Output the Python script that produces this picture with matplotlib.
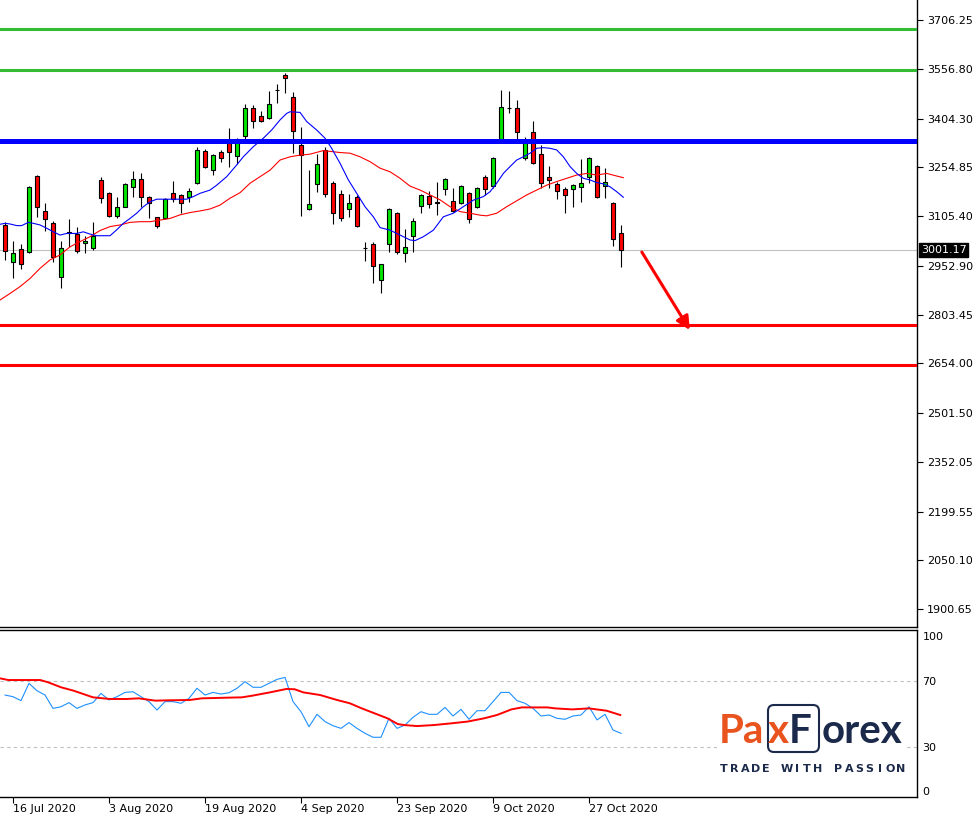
import matplotlib
matplotlib.use("Agg")
import matplotlib.pyplot as plt
import matplotlib.transforms as mtransforms
from matplotlib.patches import FancyBboxPatch, Rectangle

# daily candles (one bar per trading day)
opens = [3078, 2964, 3003, 2995, 3228, 3121, 3083, 2918, 3052, 3050,
         3022, 3006, 3216, 3175, 3106, 3134, 3193, 3218, 3165, 3101,
         3098, 3175, 3169, 3163, 3206, 3305, 3246, 3301, 3328, 3290,
         3352, 3436, 3413, 3405, 3491, 3537, 3471, 3324, 3126, 3204,
         3308, 3206, 3172, 3126, 3163, 3007, 3019, 2909, 3020, 3116,
         2991, 3044, 3137, 3167, 3147, 3187, 3152, 3144, 3175, 3132,
         3224, 3197, 3336, 3437, 3436, 3282, 3362, 3295, 3224, 3204,
         3187, 3187, 3193, 3224, 3259, 3197, 3144, 3052]
highs = [3087, 3029, 3020, 3197, 3231, 3146, 3091, 3029, 3095, 3073,
         3044, 3086, 3224, 3179, 3165, 3206, 3243, 3238, 3166, 3103,
         3160, 3213, 3172, 3192, 3316, 3310, 3296, 3308, 3374, 3344,
         3449, 3446, 3427, 3490, 3510, 3543, 3485, 3377, 3247, 3295,
         3316, 3213, 3185, 3172, 3170, 3026, 3026, 2959, 3131, 3119,
         3065, 3098, 3172, 3183, 3209, 3221, 3190, 3201, 3180, 3195,
         3231, 3285, 3492, 3489, 3461, 3349, 3397, 3323, 3259, 3211,
         3195, 3204, 3279, 3287, 3262, 3252, 3149, 3078]
lows = [2971, 2916, 2943, 2993, 3103, 3060, 2965, 2886, 3011, 2991,
        2993, 3001, 3146, 3101, 3098, 3132, 3163, 3134, 3098, 3068,
        3096, 3149, 3116, 3149, 3203, 3252, 3231, 3272, 3255, 3265,
        3338, 3374, 3395, 3402, 3451, 3482, 3298, 3106, 3124, 3180,
        3165, 3080, 3091, 3103, 3071, 2968, 2901, 2869, 2996, 2989,
        2964, 2996, 3114, 3129, 3109, 3170, 3119, 3142, 3085, 3130,
        3170, 3190, 3335, 3420, 3338, 3277, 3265, 3190, 3190, 3157,
        3116, 3134, 3149, 3207, 3160, 3160, 3014, 2948]
closes = [2999, 2993, 2957, 3194, 3134, 3097, 2981, 3006, 3055, 2999,
          3029, 3044, 3160, 3106, 3132, 3203, 3218, 3163, 3144, 3076,
          3157, 3158, 3144, 3182, 3308, 3257, 3292, 3282, 3301, 3341,
          3436, 3397, 3397, 3448, 3493, 3528, 3366, 3292, 3141, 3264,
          3172, 3114, 3098, 3146, 3075, 3006, 2952, 2957, 3126, 2994,
          3011, 3091, 3170, 3142, 3146, 3219, 3122, 3197, 3095, 3190,
          3187, 3282, 3439, 3436, 3362, 3335, 3267, 3206, 3216, 3182,
          3170, 3200, 3206, 3282, 3163, 3211, 3034, 3001.17]

# moving averages (bar position, price)
ma_fast_x = [-0.63, 0.0, 0.63, 1.46, 2.08, 2.92, 3.54, 4.38, 5.21, 6.04, 6.88, 7.71,
             8.96, 9.79, 10.63, 11.46, 12.29, 13.13, 13.96, 14.79, 15.63, 16.46,
             17.29, 18.13, 18.96, 20.21, 21.46, 22.71, 23.54, 24.38, 25.63, 26.46,
             27.71, 28.96, 29.79, 31.04, 32.29, 33.33, 34.38, 35.21, 35.63, 36.88,
             37.71, 38.96, 40.0, 40.83, 41.88, 42.92, 43.96, 45.0, 46.04, 46.88,
             48.13, 49.38, 50.63, 51.25, 52.29, 53.54, 54.79, 56.04, 57.29, 58.54,
             59.79, 60.63, 61.46, 62.29, 63.13, 63.96, 64.79, 65.63, 66.46, 67.29,
             68.13, 68.96, 69.79, 70.63, 71.46, 72.29, 73.13, 73.96, 74.79, 75.63,
             76.46, 77.29]
ma_fast_y = [3080, 3083, 3081, 3076, 3076, 3086, 3083, 3078, 3068, 3057, 3047, 3052,
             3052, 3057, 3050, 3045, 3045, 3045, 3063, 3083, 3098, 3114,
             3134, 3149, 3157, 3157, 3157, 3157, 3165, 3175, 3185, 3200,
             3226, 3262, 3287, 3318, 3344, 3369, 3400, 3420, 3425, 3423,
             3395, 3369, 3344, 3313, 3267, 3216, 3175, 3134, 3103, 3070,
             3062, 3047, 3032, 3030, 3042, 3062, 3103, 3114, 3134, 3154,
             3165, 3180, 3206, 3236, 3257, 3277, 3287, 3298, 3313, 3315,
             3313, 3308, 3287, 3257, 3236, 3221, 3216, 3208, 3204, 3195,
             3180, 3163]
ma_slow_x = [-0.63, 0.63, 1.88, 3.13, 4.38, 5.63, 6.88, 8.13, 9.38, 10.63, 11.88,
             13.13, 14.38, 15.63, 16.88, 18.13, 19.38, 20.63, 21.88, 23.13, 24.38,
             25.63, 26.88, 28.13, 29.38, 30.63, 31.88, 33.13, 34.38, 35.63, 36.88,
             38.13, 39.79, 41.88, 43.13, 44.38, 45.63, 46.88, 48.13, 49.38, 50.63,
             51.88, 53.13, 54.38, 55.63, 56.88, 58.13, 59.38, 60.21, 61.46, 62.71,
             63.96, 65.21, 66.46, 67.71, 68.96, 70.21, 71.46, 72.71, 73.96, 75.21,
             76.46, 77.29]
ma_slow_y = [2848, 2868, 2889, 2914, 2945, 2971, 2986, 3011, 3027, 3042, 3061,
             3073, 3078, 3086, 3088, 3088, 3093, 3098, 3109, 3116, 3121,
             3127, 3139, 3160, 3177, 3206, 3226, 3246, 3277, 3287, 3292,
             3295, 3306, 3300, 3298, 3287, 3272, 3252, 3241, 3221, 3197,
             3185, 3170, 3155, 3134, 3119, 3114, 3108, 3106, 3114, 3134,
             3152, 3170, 3185, 3200, 3211, 3221, 3231, 3236, 3231, 3236,
             3228, 3223]

# RSI panel
rsi = [61.7, 60.7, 58.3, 68.8, 64.3, 61.7, 53.6, 54.6, 57.1, 53.6,
       55.7, 57.1, 62.7, 58.7, 60.7, 63.3, 63.7, 60.7, 57.7, 52.6,
       57.7, 57.7, 56.7, 59.7, 65.8, 61.7, 63.3, 62.3, 63.1, 65.8,
       69.8, 66.4, 66.4, 68.8, 71.2, 72.4, 57.7, 51.6, 42.5, 50.0,
       45.6, 43.1, 41.5, 45.0, 41.5, 38.5, 36.1, 36.1, 47.6, 41.5,
       43.5, 48.2, 51.6, 50.0, 50.0, 54.2, 49.0, 53.0, 47.0, 52.2,
       52.2, 57.7, 63.3, 63.3, 58.3, 56.7, 53.6, 49.0, 49.6, 47.6,
       47.0, 49.0, 49.6, 54.6, 46.6, 50.0, 40.5, 38.5]
rsi_ma_x = [-0.6, 0.4, 4.4, 5.4, 7.0, 8.6, 11.0, 13.1, 15.2, 16.7, 18.8, 20.4,
            23.1, 24.6, 27.8, 29.6, 30.9, 33.1, 35.2, 36.2, 37.3, 39.4, 41.5,
            43.1, 44.6, 46.2, 47.8, 49.1, 49.9, 51.5, 53.6, 55.7, 57.8, 59.9,
            61.5, 63.3, 64.6, 67.8, 68.8, 70.9, 73.0, 75.2, 76.9]
rsi_ma_y = [71.8, 70.8, 70.8, 69.4, 66.4, 64.3, 60.3, 59.3, 59.3, 59.7, 58.3, 58.5,
            58.7, 59.7, 60.1, 60.3, 61.3, 63.3, 65.4, 65.2, 63.3, 61.7, 58.7,
            56.7, 53.6, 50.6, 47.6, 44.1, 43.5, 42.9, 43.5, 44.5, 45.6, 47.6,
            49.6, 53.0, 54.2, 54.2, 53.6, 53.0, 53.6, 52.2, 49.6]

resistance_levels = [3678.7, 3553.0]
pivot_level = 3335.4
support_levels = [2771.3, 2648.7]
last_price = 3001.17
price_ticks = [3706.25, 3556.80, 3404.30, 3254.85, 3105.40, 2952.90, 2803.45,
               2654.00, 2501.50, 2352.05, 2199.55, 2050.10, 1900.65]
date_ticks = [1, 13, 25, 37, 49, 61, 73]
date_labels = ["16 Jul 2020", "3 Aug 2020", "19 Aug 2020", "4 Sep 2020",
               "23 Sep 2020", "9 Oct 2020", "27 Oct 2020"]
arrow_start = (79.6, 2995)
arrow_end = (85.6, 2756)

fig = plt.figure(figsize=(9.79, 8.14), dpi=100)
ax = fig.add_axes([0, 0.2297, 0.9367, 0.7703])
ax2 = fig.add_axes([0, 0.0209, 0.9367, 0.2051])

# candles
idx = list(range(len(opens)))
ax.vlines(idx, lows, highs, color="black", lw=0.8, zorder=2)
colors = ["#00e600" if c >= o else "#ff0000" for o, c in zip(opens, closes)]
bottoms = [min(o, c) for o, c in zip(opens, closes)]
heights = [max(abs(c - o), 0.5) for o, c in zip(opens, closes)]
ax.bar(idx, heights, bottom=bottoms, width=0.62, color=colors,
       edgecolor="black", lw=0.8, zorder=2.5)

ax.plot(ma_slow_x, ma_slow_y, color="#ff0000", lw=0.8, zorder=3)
ax.plot(ma_fast_x, ma_fast_y, color="#0000ff", lw=0.8, zorder=3)

ax.axhline(last_price, color="#c0c0c0", lw=0.8, zorder=1)
for lvl in resistance_levels:
    ax.axhline(lvl, color="#33bb33", lw=2.2, zorder=4)
ax.axhline(pivot_level, color="#0000ff", lw=3.6, zorder=4)
for lvl in support_levels:
    ax.axhline(lvl, color="#ff0000", lw=2.2, zorder=4)

ax.annotate("", xy=arrow_end, xytext=arrow_start,
            arrowprops=dict(arrowstyle="-|>", color="#ff0000", lw=2.2,
                            mutation_scale=20, shrinkA=0, shrinkB=0), zorder=5)

ax.set_xlim(-0.625, 114)
ax.set_ylim(1845.5, 3767.6)
ax.set_xticks([])
ax.yaxis.tick_right()
ax.set_yticks(price_ticks)
ax.set_yticklabels(["%.2f" % p for p in price_ticks])
ax.tick_params(axis="y", length=4, width=0.8, labelsize=8, pad=3)
for s in ["top", "left"]:
    ax.spines[s].set_visible(False)
ax.spines["right"].set_linewidth(1)
ax.spines["bottom"].set_linewidth(1)

trans = mtransforms.blended_transform_factory(ax.transAxes, ax.transData)
ax.text(1.004, last_price, "%.2f" % last_price, transform=trans, color="white",
        fontsize=8, va="center", ha="left",
        bbox=dict(facecolor="black", edgecolor="black", pad=1.2))

# RSI
ax2.axhline(70, color="#c0c0c0", lw=0.8, ls=(0, (3, 3)))
ax2.axhline(30, color="#c0c0c0", lw=0.8, ls=(0, (3, 3)))
ax2.plot(idx, rsi, color="#1e90ff", lw=0.8)
ax2.plot(rsi_ma_x, rsi_ma_y, color="#ff0000", lw=1.4)
ax2.set_xlim(-0.625, 114)
ax2.set_ylim(-0.1, 101.1)
ax2.yaxis.tick_right()
ax2.set_yticks([100, 70, 30, 0])
ax2.set_yticklabels(["100", "70", "30", "0"])
ax2.tick_params(axis="y", length=0, labelsize=8, pad=4)
ylabs = ax2.get_yticklabels()
ylabs[0].set_va("top")
ylabs[3].set_va("bottom")
ax2.set_xticks(date_ticks)
ax2.set_xticklabels(date_labels, ha="left")
ax2.tick_params(axis="x", length=4, width=0.8, labelsize=8, pad=1)
ax2.spines["left"].set_visible(False)
for s in ["top", "right", "bottom"]:
    ax2.spines[s].set_linewidth(1)

# logo
fig.patches.append(Rectangle((7.17, 0.36), 1.89, 0.78, transform=fig.dpi_scale_trans,
                             facecolor="white", edgecolor="none", zorder=1))
fig.patches.append(FancyBboxPatch((7.68, 0.62), 0.51, 0.47,
                                  boxstyle="round,pad=0,rounding_size=0.06",
                                  transform=fig.dpi_scale_trans, facecolor="white",
                                  edgecolor="#1b2a4a", lw=1.5, zorder=2))
orange = "#e8531e"
navy = "#1b2a4a"
logo_y = 1 - 743 / 814
fig.text(719 / 979, logo_y, "Pa", color=orange, fontsize=29, fontweight="bold",
         family="Lato", va="baseline", ha="left", zorder=3)
fig.text(768 / 979, logo_y, "x", color=orange, fontsize=29, fontweight="bold",
         family="Lato", va="baseline", ha="left", zorder=3)
fig.text(789 / 979, logo_y, "F", color=navy, fontsize=29, fontweight="bold",
         family="Lato", va="baseline", ha="left", zorder=3)
fig.text(822 / 979, logo_y, "orex", color=navy, fontsize=29, fontweight="bold",
         family="Lato", va="baseline", ha="left", zorder=3)
slogan = "TRADE WITH PASSION"
for i, ch in enumerate(slogan):
    fig.text((724 + i * 10.4) / 979, 1 - 769 / 814, ch, color=navy, fontsize=8,
             fontweight="bold", family="DejaVu Sans", ha="center", va="center", zorder=3)

fig.savefig("out.png", dpi=100)
